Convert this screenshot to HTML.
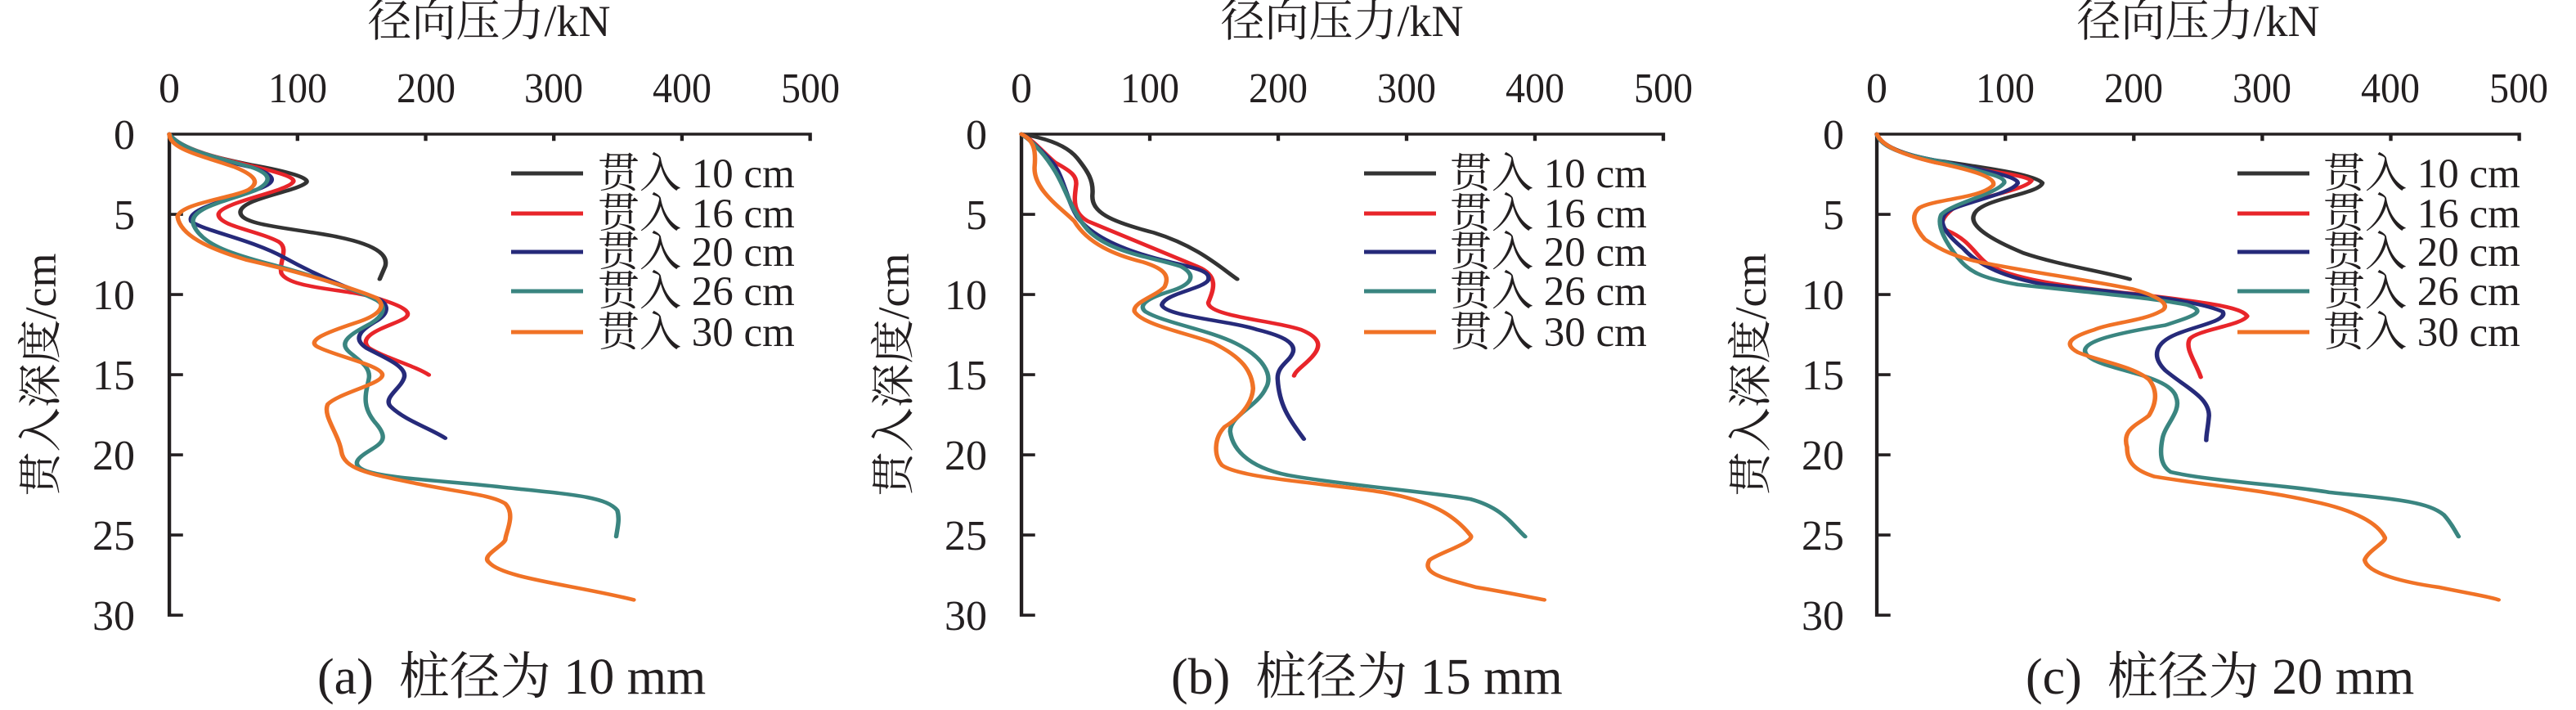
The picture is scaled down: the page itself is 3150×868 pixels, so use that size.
<!DOCTYPE html>
<html><head><meta charset="utf-8"><style>
html,body{margin:0;padding:0;background:#fff;}
svg{display:block;}
text{font-family:"Liberation Serif","Noto Serif CJK SC","Noto Sans CJK SC",serif;fill:#231f20;}
.c{fill:none;stroke-width:8.2;stroke-linecap:round;stroke-linejoin:round;}
.ax{fill:none;stroke:#231f20;stroke-width:6.5;}
</style></head><body>
<svg width="3150" height="868" viewBox="0 0 3150 868" xmlns="http://www.w3.org/2000/svg">
<!-- Panel a -->
<g transform="translate(0,0) scale(0.668,0.5522)">
<path class="ax" d="M310,312 V297 H1483 V312 M544.6,297 V312 M779.2,297 V312 M1013.8,297 V312 M1248.4,297 V312 M310,297 V1362 H335 M310,474.5 H335 M310,652 H335 M310,829.5 H335 M310,1007 H335 M310,1184.5 H335"/>
<path class="c" stroke="#333" d="M310,297 C330,330 380,345 460,365 C530,380 570,395 560,405 C540,425 440,440 440,470 C440,500 540,505 620,525 C700,545 710,570 705,590 L695,618"/>
<path class="c" stroke="#e8252a" d="M310,297 C330,330 400,350 470,370 C520,385 545,395 535,405 C520,425 400,450 400,475 C400,500 470,510 510,535 C530,550 510,580 515,605 C530,640 640,640 690,660 C730,675 760,690 740,705 C720,720 650,740 675,770 C700,790 760,810 785,830"/>
<path class="c" stroke="#262a7a" d="M310,297 C330,330 400,355 460,370 C500,385 510,400 480,415 C430,440 340,460 350,490 C370,510 460,530 520,570 C580,610 640,640 690,660 C715,675 710,695 690,710 C670,725 640,745 670,770 C700,790 745,810 740,835 C735,860 700,880 715,900 C740,930 790,950 815,970"/>
<path class="c" stroke="#3a8580" d="M310,297 C330,330 400,350 460,370 C495,385 500,400 470,420 C420,445 340,460 355,500 C370,540 420,560 480,580 C560,605 650,640 690,665 C710,680 700,700 680,715 C650,735 615,755 640,780 C660,800 680,815 675,840 C670,870 660,900 690,940 C710,970 700,980 680,995 C660,1010 640,1025 665,1040 C700,1060 830,1065 930,1080 C1050,1095 1110,1100 1130,1130 C1135,1150 1130,1170 1128,1188"/>
<path class="c" stroke="#f07226" d="M310,297 C310,330 370,345 430,370 C470,390 475,405 455,420 C420,440 330,450 325,480 C330,520 380,550 450,575 C560,605 650,640 690,660 C710,680 690,700 650,715 C600,735 555,755 585,770 C620,790 700,810 700,830 C700,850 620,870 600,895 C590,920 620,960 625,1000 C630,1040 680,1050 760,1070 C840,1090 900,1095 925,1115 C945,1140 925,1180 925,1195 C920,1210 880,1230 895,1245 C920,1280 1050,1295 1160,1328"/>
</g>
<!-- Panel b -->
<g transform="translate(1050,0) scale(0.668,0.5522)">
<path class="ax" d="M298,312 V297 H1473 V312 M533,297 V312 M768,297 V312 M1003,297 V312 M1238,297 V312 M298,297 V1362 H323 M298,474.5 H323 M298,652 H323 M298,829.5 H323 M298,1007 H323 M298,1184.5 H323"/>
<path class="c" stroke="#333" d="M298,297 C340,305 380,320 400,350 C420,380 430,400 428,430 C425,470 460,490 540,515 C620,545 660,590 693,618"/>
<path class="c" stroke="#e8252a" d="M298,297 C320,310 340,340 360,360 C390,380 400,390 398,410 C395,440 390,470 420,490 C480,520 560,560 620,590 C660,610 650,640 640,670 C640,700 760,710 810,730 C850,750 845,770 830,790 C815,810 800,820 797,832"/>
<path class="c" stroke="#262a7a" d="M298,297 C320,315 340,340 355,360 C375,390 380,440 400,480 C430,530 500,560 570,580 C620,595 645,600 640,620 C630,640 560,650 555,675 C560,700 680,710 730,730 C780,745 800,760 795,780 C790,800 765,810 767,840 C770,900 790,930 815,972"/>
<path class="c" stroke="#3a8580" d="M298,297 C320,315 340,340 360,380 C380,420 390,470 420,510 C460,560 540,570 590,590 C620,610 610,630 570,645 C530,660 510,675 525,690 C560,715 640,730 690,760 C740,790 760,830 745,860 C730,900 680,920 680,955 C685,1000 720,1040 800,1055 C900,1075 1050,1090 1120,1105 C1180,1125 1195,1160 1220,1188"/>
<path class="c" stroke="#f07226" d="M298,297 C320,310 325,330 322,370 C320,420 370,460 395,490 C420,540 470,565 520,580 C560,595 570,610 560,635 C545,655 500,670 505,690 C520,720 610,740 650,760 C700,790 720,820 722,860 C720,900 690,930 670,945 C650,970 650,1010 665,1030 C700,1060 860,1070 960,1090 C1050,1110 1090,1140 1120,1185 C1130,1200 1060,1225 1045,1240 C1030,1270 1070,1280 1130,1300 C1180,1310 1220,1320 1255,1328"/>
</g>
<!-- Panel c -->
<g transform="translate(2100,0) scale(0.668,0.5522)">
<path class="ax" d="M292,312 V297 H1468 V312 M527.2,297 V312 M762.4,297 V312 M997.6,297 V312 M1232.8,297 V312 M292,297 V1362 H317 M292,474.5 H317 M292,652 H317 M292,829.5 H317 M292,1007 H317 M292,1184.5 H317"/>
<path class="c" stroke="#333" d="M292,297 C300,320 330,340 400,355 C480,370 580,385 595,405 C590,430 480,440 470,475 C460,500 500,530 560,560 C620,585 700,600 755,618"/>
<path class="c" stroke="#e8252a" d="M292,297 C300,320 330,340 400,360 C470,375 560,385 575,400 C565,420 470,440 440,455 C420,470 400,495 420,510 C460,530 470,560 490,580 C520,610 600,630 760,650 C900,670 960,680 970,700 C960,720 880,730 865,750 C855,770 875,800 885,835"/>
<path class="c" stroke="#262a7a" d="M292,297 C300,330 350,345 420,360 C480,375 550,390 550,405 C540,430 440,450 420,470 C400,490 420,520 450,550 C480,590 530,615 600,630 C760,650 880,665 925,690 C935,710 880,720 840,740 C800,760 795,790 820,820 C860,860 900,880 900,920 C898,950 895,960 895,975"/>
<path class="c" stroke="#3a8580" d="M292,297 C300,330 350,345 420,360 C480,380 530,390 525,405 C510,430 430,450 410,475 C400,500 420,540 440,570 C460,600 480,615 550,630 C700,650 800,660 860,675 C900,690 870,700 820,720 C720,740 650,760 680,790 C710,820 830,830 840,880 C850,910 820,940 815,970 C810,1000 810,1030 830,1045 C900,1065 1050,1075 1120,1090 C1240,1105 1300,1110 1330,1140 C1345,1160 1350,1175 1357,1188"/>
<path class="c" stroke="#f07226" d="M292,297 C300,320 330,340 400,360 C480,380 510,395 505,410 C480,440 400,440 370,460 C350,480 365,510 380,530 C410,555 440,570 480,580 C560,600 680,620 760,640 C820,660 830,680 810,690 C780,710 720,715 690,730 C650,745 630,760 660,780 C700,800 760,810 790,840 C810,870 800,900 790,920 C770,940 740,950 750,990 C750,1020 760,1040 800,1055 C900,1075 1000,1085 1090,1110 C1170,1130 1210,1160 1222,1190 C1225,1200 1190,1220 1185,1240 C1190,1270 1260,1290 1320,1300 C1380,1315 1410,1320 1430,1328"/>
</g>

<g font-size="54" text-anchor="middle">
<text x="598" y="44">径向压力/kN</text>
<text x="1641" y="44">径向压力/kN</text>
<text x="2688" y="44">径向压力/kN</text>
<text transform="translate(68,458) rotate(-90)">贯入深度/cm</text>
<text transform="translate(1111,458) rotate(-90)">贯入深度/cm</text>
<text transform="translate(2159,458) rotate(-90)">贯入深度/cm</text>
</g>
<g font-size="52" text-anchor="middle">
<text x="207" y="125">0</text><text x="364" y="125" textLength="72" lengthAdjust="spacingAndGlyphs">100</text><text x="521" y="125" textLength="72" lengthAdjust="spacingAndGlyphs">200</text><text x="677" y="125" textLength="72" lengthAdjust="spacingAndGlyphs">300</text><text x="834" y="125" textLength="72" lengthAdjust="spacingAndGlyphs">400</text><text x="991" y="125" textLength="72" lengthAdjust="spacingAndGlyphs">500</text>
<text x="1249" y="125">0</text><text x="1406" y="125" textLength="72" lengthAdjust="spacingAndGlyphs">100</text><text x="1563" y="125" textLength="72" lengthAdjust="spacingAndGlyphs">200</text><text x="1720" y="125" textLength="72" lengthAdjust="spacingAndGlyphs">300</text><text x="1877" y="125" textLength="72" lengthAdjust="spacingAndGlyphs">400</text><text x="2034" y="125" textLength="72" lengthAdjust="spacingAndGlyphs">500</text>
<text x="2295" y="125">0</text><text x="2452" y="125" textLength="72" lengthAdjust="spacingAndGlyphs">100</text><text x="2609" y="125" textLength="72" lengthAdjust="spacingAndGlyphs">200</text><text x="2766" y="125" textLength="72" lengthAdjust="spacingAndGlyphs">300</text><text x="2923" y="125" textLength="72" lengthAdjust="spacingAndGlyphs">400</text><text x="3080" y="125" textLength="72" lengthAdjust="spacingAndGlyphs">500</text>
</g>
<g font-size="52" text-anchor="end">
<text x="165" y="182">0</text><text x="165" y="280">5</text><text x="165" y="378">10</text><text x="165" y="476">15</text><text x="165" y="574">20</text><text x="165" y="672">25</text><text x="165" y="770">30</text>
<text x="1207" y="182">0</text><text x="1207" y="280">5</text><text x="1207" y="378">10</text><text x="1207" y="476">15</text><text x="1207" y="574">20</text><text x="1207" y="672">25</text><text x="1207" y="770">30</text>
<text x="2255" y="182">0</text><text x="2255" y="280">5</text><text x="2255" y="378">10</text><text x="2255" y="476">15</text><text x="2255" y="574">20</text><text x="2255" y="672">25</text><text x="2255" y="770">30</text>
</g>
<g stroke-width="5">
<line x1="625" y1="212" x2="713" y2="212" stroke="#333"/><line x1="625" y1="261" x2="713" y2="261" stroke="#e8252a"/><line x1="625" y1="308" x2="713" y2="308" stroke="#262a7a"/><line x1="625" y1="356" x2="713" y2="356" stroke="#3a8580"/><line x1="625" y1="406" x2="713" y2="406" stroke="#f07226"/>
<line x1="1668" y1="212" x2="1756" y2="212" stroke="#333"/><line x1="1668" y1="261" x2="1756" y2="261" stroke="#e8252a"/><line x1="1668" y1="308" x2="1756" y2="308" stroke="#262a7a"/><line x1="1668" y1="356" x2="1756" y2="356" stroke="#3a8580"/><line x1="1668" y1="406" x2="1756" y2="406" stroke="#f07226"/>
<line x1="2736" y1="212" x2="2824" y2="212" stroke="#333"/><line x1="2736" y1="261" x2="2824" y2="261" stroke="#e8252a"/><line x1="2736" y1="308" x2="2824" y2="308" stroke="#262a7a"/><line x1="2736" y1="356" x2="2824" y2="356" stroke="#3a8580"/><line x1="2736" y1="406" x2="2824" y2="406" stroke="#f07226"/>
</g>
<g font-size="51">
<text x="731" y="229">贯入 10 cm</text><text x="731" y="278">贯入 16 cm</text><text x="731" y="325">贯入 20 cm</text><text x="731" y="373">贯入 26 cm</text><text x="731" y="423">贯入 30 cm</text>
<text x="1773" y="229">贯入 10 cm</text><text x="1773" y="278">贯入 16 cm</text><text x="1773" y="325">贯入 20 cm</text><text x="1773" y="373">贯入 26 cm</text><text x="1773" y="423">贯入 30 cm</text>
<text x="2841" y="229">贯入 10 cm</text><text x="2841" y="278">贯入 16 cm</text><text x="2841" y="325">贯入 20 cm</text><text x="2841" y="373">贯入 26 cm</text><text x="2841" y="423">贯入 30 cm</text>
</g>
<g font-size="62">
<text x="388" y="848" xml:space="preserve">(a)  桩径为 10 mm</text>
<text x="1432" y="848" xml:space="preserve">(b)  桩径为 15 mm</text>
<text x="2477" y="848" xml:space="preserve">(c)  桩径为 20 mm</text>
</g>
</svg>
</body></html>
